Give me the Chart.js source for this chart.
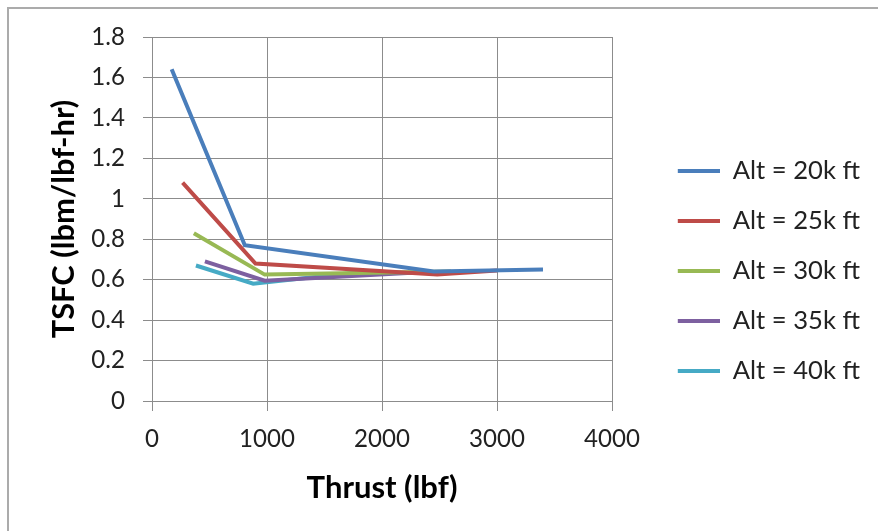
<!DOCTYPE html>
<html>
<head>
<meta charset="utf-8">
<script src="https://cdn.jsdelivr.net/npm/chart.js@4/dist/chart.umd.min.js"></script>
<style>
  html, body { margin: 0; padding: 0; background: #fff; }
  #wrap { position: relative; width: 878px; height: 531px; overflow: hidden; }
  #frame { position: absolute; left: 7px; top: 7px; width: 1000px; height: 1000px;
           border-left: 2px solid #ababab; border-top: 2px solid #ababab; }
  canvas { position: absolute; left: 0; top: 0; }
</style>
</head>
<body>
<div id="wrap">
  <div id="frame"></div>
  <canvas id="c" width="878" height="531"></canvas>
</div>
<script>
// ---- data ----
const seriesNames = ['Alt = 20k ft', 'Alt = 25k ft', 'Alt = 30k ft', 'Alt = 35k ft', 'Alt = 40k ft'];
const seriesColors = ['#4a7ebb', '#be4b48', '#98b954', '#7d60a0', '#46aac5'];

const thrust20 = [171, 807, 2450, 3400];
const tsfc20   = [1.64, 0.77, 0.64, 0.65];

const thrust25 = [266, 900, 2480, 3000];
const tsfc25   = [1.08, 0.68, 0.625, 0.645];

const thrust30 = [364, 980, 2600];
const tsfc30   = [0.83, 0.625, 0.64];

const thrust35 = [460, 980, 2300];
const tsfc35   = [0.69, 0.595, 0.635];

const thrust40 = [382, 880, 1820];
const tsfc40   = [0.67, 0.58, 0.638];

const xTickLabels = ['0', '1000', '2000', '3000', '4000'];
const yTickLabels = ['0', '0.2', '0.4', '0.6', '0.8', '1', '1.2', '1.4', '1.6', '1.8'];

const xTitle = 'Thrust (lbf)';
const yTitle = 'TSFC (lbm/lbf-hr)';

// ---- build datasets ----
const xs = [thrust20, thrust25, thrust30, thrust35, thrust40];
const ys = [tsfc20, tsfc25, tsfc30, tsfc35, tsfc40];
const datasets = seriesNames.map((name, i) => ({
  label: name,
  data: xs[i].map((x, j) => ({ x: x, y: ys[i][j] })),
  borderColor: seriesColors[i],
  backgroundColor: seriesColors[i],
  borderWidth: 4,
  pointRadius: 0,
  tension: 0,
  fill: false
}));

const FONT = 'Lato, "Open Sans", sans-serif';
const gridColor = '#8c8c8c';

// fit font sizes to the text widths seen in the reference
const mctx = document.createElement('canvas').getContext('2d');
function measure(text, weight, size) {
  mctx.font = weight + ' ' + size + 'px ' + FONT;
  return mctx.measureText(text).width;
}
function fitSize(text, weight, target) {
  return Math.round(100 * target / measure(text, weight, 100) * 10) / 10;
}
const tickSize   = fitSize('1000', 'normal', 56);
const legendSize = fitSize('Alt = 20k ft', 'normal', 127);
const xTitleSize = fitSize(xTitle, 'bold', 151);
const yTitleSize = fitSize(yTitle, 'bold', 239);

// layout geometry (plot area: x 152..612, y 37..401; legend line starts at 678)
const padLeft = -460;
const padRight = 8;
const legendPad = 50 - legendSize;
const legendBoxW = 55 - legendSize / 2;
const legendTextW = Math.max(...seriesNames.map(n => measure(n, 'normal', legendSize)));
const legendNatW = legendPad + legendBoxW + legendSize / 2 + legendTextW + 10;
const legendLeft = 878 - padRight - legendNatW;
const spacerW = legendLeft - 612;

new Chart(document.getElementById('c'), {
  type: 'line',
  data: { datasets: datasets },
  options: {
    responsive: false,
    animation: false,
    devicePixelRatio: 1,
    layout: { padding: { top: 37, right: padRight, bottom: 26, left: padLeft } },
    plugins: {
      tooltip: { enabled: false },
      legend: {
        position: 'right',
        labels: {
          font: { family: FONT, size: legendSize },
          color: '#222',
          boxWidth: legendBoxW,
          boxHeight: 4,
          padding: legendPad,
          generateLabels: (chart) =>
            Chart.defaults.plugins.legend.labels.generateLabels(chart).map(l => ({
              ...l, fillStyle: l.strokeStyle, lineWidth: 0
            }))
        }
      }
    },
    scales: {
      x: {
        type: 'linear',
        min: 0, max: 4000,
        afterFit: (s) => { s.height = 104; },
        grid: { color: gridColor, lineWidth: 1, tickLength: 10, drawTicks: true },
        border: { color: gridColor, width: 1 },
        ticks: {
          stepSize: 1000,
          padding: 14,
          maxRotation: 0,
          color: '#222',
          font: { family: FONT, size: tickSize },
          callback: (v, i) => xTickLabels[i]
        },
        title: {
          display: true, text: xTitle, color: '#000',
          font: { family: FONT, size: xTitleSize, weight: 'bold' },
          padding: { top: 0, bottom: 505 - 488 - 0.6 * xTitleSize }
        }
      },
      y: {
        type: 'linear',
        min: 0, max: 1.8,
        afterFit: (s) => { s.width = 152 - padLeft; },
        grid: { color: gridColor, lineWidth: 1, tickLength: 9, drawTicks: true },
        border: { color: gridColor, width: 1 },
        ticks: {
          stepSize: 0.2,
          padding: 18,
          color: '#222',
          font: { family: FONT, size: tickSize },
          callback: (v, i) => yTickLabels[i]
        },
        title: {
          display: true, text: yTitle, color: '#000',
          font: { family: FONT, size: yTitleSize, weight: 'bold' },
          padding: { top: 64 - padLeft - 0.6 * yTitleSize, bottom: 0 }
        }
      },
      spacer: {
        type: 'linear',
        position: 'right',
        display: true,
        afterFit: (s) => { s.width = spacerW; },
        grid: { display: false },
        border: { display: false },
        ticks: { display: false }
      }
    }
  }
});
</script>
</body>
</html>
